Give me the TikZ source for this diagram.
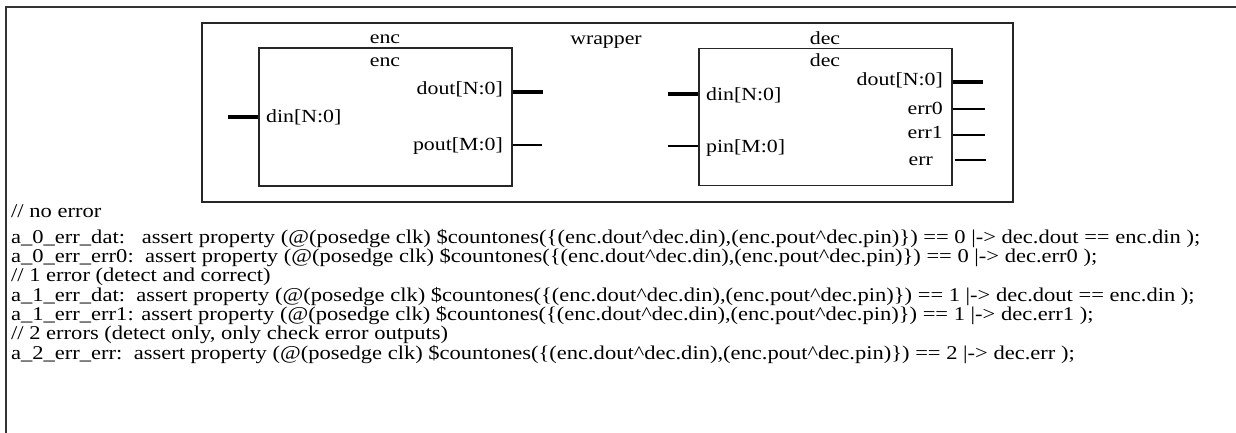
\documentclass[tikz,border=0pt]{standalone}
\usepackage{fontspec}
\setmainfont{Liberation Serif}
\newcommand\codew[1]{\scalebox{1.155}[1]{#1}}
\newcommand\lblw[1]{\scalebox{1.18}[1]{#1}}
\tikzset{
  frame/.style={draw=black!80, line width=1.5pt},
  blk/.style={draw=black!85, line width=1.3pt},
  lbl/.style={inner sep=0pt, font=\fontsize{18.5}{20}\selectfont},
  code/.style={inner sep=0pt, anchor=base west, font=\fontsize{19.5}{20}\selectfont},
  bus/.style={line width=4pt},
  wire/.style={line width=1.6pt},
  thinwire/.style={line width=1.1pt},
}
\begin{document}
\begin{tikzpicture}[x=1pt,y=-1pt]
\useasboundingbox (0,0) rectangle (1236,433);
% outer frame (top and left only)
\coordinate (fbl) at (6,434);
\coordinate (ftl) at (6,7);
\coordinate (ftr) at (1237,7);
\draw[frame] (fbl) -- (ftl) -- (ftr);
% wrapper
\node[blk, minimum width=811pt, minimum height=179pt, inner sep=0pt] (wrapper) at (607.5,112.5) {};
\node[lbl, anchor=base] (wrapperlbl) at (606,45) {\lblw{wrapper}};
% enc
\node[blk, minimum width=253pt, minimum height=138pt, inner sep=0pt] (enc) at (385.5,117) {};
\node[lbl, anchor=base] (enclbl) at (385,44) {\lblw{enc}};
\node[lbl, anchor=base] (encin) at (385,67) {\lblw{enc}};
\node[lbl, anchor=base west] (encdin) at (266,123) {\lblw{din[N:0]}};
\node[lbl, anchor=base east] (encdout) at (503,95) {\lblw{dout[N:0]}};
\node[lbl, anchor=base east] (encpout) at (503,150) {\lblw{pout[M:0]}};
\coordinate (encdinend) at (228,117);
\coordinate (encdoutend) at (543,92);
\coordinate (encpoutend) at (542,145);
\draw[bus] (encdinend) -- (encdinend -| enc.west);
\draw[bus] (encdoutend -| enc.east) -- (encdoutend);
\draw[wire] (encpoutend -| enc.east) -- (encpoutend);
% dec
\node[blk, minimum width=253pt, minimum height=137pt, inner sep=0pt] (dec) at (825.5,117) {};
\node[lbl, anchor=base] (declbl) at (825,45) {\lblw{dec}};
\node[lbl, anchor=base] (decin) at (825,67) {\lblw{dec}};
\node[lbl, anchor=base west] (decdin) at (706,101) {\lblw{din[N:0]}};
\node[lbl, anchor=base west] (decpin) at (706,153) {\lblw{pin[M:0]}};
\node[lbl, anchor=base east] (decdout) at (943,86) {\lblw{dout[N:0]}};
\node[lbl, anchor=base east] (decerr0) at (943,114) {\lblw{err0}};
\node[lbl, anchor=base east] (decerr1) at (943,139) {\lblw{err1}};
\node[lbl, anchor=base east] (decerr) at (933,165) {\lblw{err}};
\coordinate (decdinend) at (668,94);
\coordinate (decpinend) at (668,146);
\coordinate (decdoutend) at (983,82);
\coordinate (decerr0end) at (985,109);
\coordinate (decerr1end) at (985,135);
\coordinate (decerrend) at (986,160);
\draw[bus] (decdinend) -- (decdinend -| dec.west);
\draw[wire] (decpinend) -- (decpinend -| dec.west);
\draw[bus] (decdoutend -| dec.east) -- (decdoutend);
\draw[thinwire] (decerr0end -| dec.east) -- (decerr0end);
\draw[thinwire] (decerr1end -| dec.east) -- (decerr1end);
\draw[thinwire] ([xshift=2pt]decerrend -| dec.east) -- (decerrend);
% code lines
\node[code] (l1) at (11,217) {\codew{// no error}};
\node[code] (l2) at (11,243) {\codew{a\_0\_err\_dat:\ \ \ assert property (@(posedge clk) \$countones(\{(enc.dout\textasciicircum dec.din),(enc.pout\textasciicircum dec.pin)\}) == 0 |-> dec.dout == enc.din );}};
\node[code] (l3) at (11,262) {\codew{a\_0\_err\_err0:\ \ assert property (@(posedge clk) \$countones(\{(enc.dout\textasciicircum dec.din),(enc.pout\textasciicircum dec.pin)\}) == 0 |-> dec.err0 );}};
\node[code] (l4) at (11,281) {\codew{// 1 error (detect and correct)}};
\node[code] (l5) at (11,301) {\codew{a\_1\_err\_dat:\ \ assert property (@(posedge clk) \$countones(\{(enc.dout\textasciicircum dec.din),(enc.pout\textasciicircum dec.pin)\}) == 1 |-> dec.dout == enc.din );}};
\node[code] (l6) at (11,320) {\codew{a\_1\_err\_err1: assert property (@(posedge clk) \$countones(\{(enc.dout\textasciicircum dec.din),(enc.pout\textasciicircum dec.pin)\}) == 1 |-> dec.err1 );}};
\node[code] (l7) at (11,339) {\codew{// 2 errors (detect only, only check error outputs)}};
\node[code] (l8) at (11,359) {\codew{a\_2\_err\_err:\ \ assert property (@(posedge clk) \$countones(\{(enc.dout\textasciicircum dec.din),(enc.pout\textasciicircum dec.pin)\}) == 2 |-> dec.err );}};
\end{tikzpicture}
\end{document}
